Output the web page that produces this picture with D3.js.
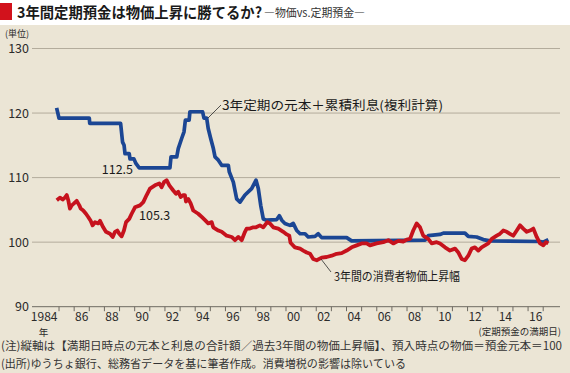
<!DOCTYPE html>
<html>
<head>
<meta charset="utf-8">
<script src="https://cdn.jsdelivr.net/npm/d3@7"></script>
<style>
body{margin:0;background:#fff;}
svg{display:block;font-family:"Noto Sans CJK JP","Noto Sans",sans-serif;}
</style>
</head>
<body>
<div id="chart"></div>
<script>
// 3年定期（元本＋累積利息）: 満期日（年） / 値
var depositDates = [1984.84,1985.0,1987.0,1987.03,1989.07,1989.2,1989.3,1989.36,1989.64,1989.69,1989.95,1990.08,1990.3,1992.33,1992.4,1992.78,1992.88,1993.11,1993.26,1993.35,1993.6,1993.65,1994.49,1994.58,1994.76,1994.86,1995.02,1995.2,1995.31,1995.53,1995.75,1996.19,1996.25,1996.52,1996.74,1996.96,1997.29,1997.73,1998.02,1998.17,1998.33,1998.5,1998.72,1999.39,1999.56,1999.72,1999.93,2000.26,2000.48,2000.71,2000.93,2001.26,2001.47,2001.92,2002.13,2002.36,2004.01,2004.34,2009.19,2009.41,2010.18,2010.4,2011.83,2012.05,2012.6,2013.04,2013.48,2016.79,2017.0,2017.34];
var depositValues = [120.8,119.2,119.2,118.4,118.4,115.5,115.0,113.7,113.7,112.9,112.9,112.2,111.5,111.5,113.2,113.2,114.5,116.1,117.1,118.9,118.9,120.2,120.2,119.2,119.2,117.6,116.1,114.5,113.2,112.7,111.9,111.9,110.9,109.3,106.7,106.2,107.3,108.3,109.6,108.3,105.7,103.6,103.4,103.5,104.1,103.4,102.9,102.6,102.9,101.8,101.3,101.3,100.8,100.9,101.3,100.7,100.7,100.2,100.3,101.0,101.2,101.4,101.4,100.9,100.8,100.4,100.2,100.1,100.0,100.4];

// 過去3年間の消費者物価上昇幅
var cpiDates = [1984.85,1985.06,1985.24,1985.39,1985.51,1985.61,1985.72,1985.84,1985.99,1986.17,1986.34,1986.43,1986.6,1986.78,1986.93,1987.09,1987.22,1987.38,1987.59,1987.71,1987.92,1988.1,1988.37,1988.55,1988.7,1988.85,1988.98,1989.14,1989.29,1989.43,1989.64,1989.8,1990.02,1990.35,1990.57,1990.79,1991.01,1991.34,1991.63,1991.78,1991.94,1992.11,1992.29,1992.55,1992.73,1992.88,1993.04,1993.21,1993.32,1993.39,1993.54,1993.7,1993.87,1994.2,1994.43,1994.65,1994.86,1995.09,1995.19,1995.53,1995.75,1996.08,1996.41,1996.63,1996.85,1997.07,1997.29,1997.4,1997.62,1997.84,1998.02,1998.28,1998.5,1998.76,1998.94,1999.16,1999.49,1999.82,2000.05,2000.22,2000.3,2000.59,2000.93,2001.14,2001.37,2001.59,2001.8,2002.03,2002.36,2002.69,2003.02,2003.35,2003.68,2004.01,2004.34,2004.67,2005.0,2005.33,2005.55,2005.99,2006.43,2006.76,2007.09,2007.42,2007.75,2007.98,2008.2,2008.41,2008.64,2008.86,2009.07,2009.4,2009.63,2009.96,2010.18,2010.51,2010.84,2011.17,2011.39,2011.61,2011.83,2012.05,2012.27,2012.49,2012.71,2012.93,2013.15,2013.37,2013.6,2013.93,2014.14,2014.36,2014.59,2014.8,2015.02,2015.25,2015.47,2015.68,2015.91,2016.13,2016.35,2016.57,2016.79,2017.01,2017.18,2017.34];
var cpiValues = [106.5,106.9,106.6,106.9,107.3,106.5,105.2,105.7,106.0,106.4,105.7,105.2,104.9,104.4,103.9,103.3,102.6,103.1,102.9,103.3,102.3,101.6,101.3,100.8,101.6,101.8,101.3,100.9,101.8,103.1,103.6,104.4,105.4,105.7,106.2,107.3,108.3,108.8,109.1,108.5,109.3,109.6,108.8,108.0,107.5,107.8,107.0,107.3,107.3,106.3,106.7,106.0,104.9,104.4,103.9,103.4,102.9,103.1,102.3,101.8,101.6,101.0,100.8,100.3,100.8,100.3,101.6,102.1,102.1,102.3,102.3,102.6,102.3,103.1,102.9,102.3,102.1,101.6,101.2,101.0,99.9,99.2,99.0,98.7,98.4,98.2,97.4,97.2,97.6,97.7,97.9,98.2,98.3,98.7,99.2,99.5,99.8,99.8,99.5,99.8,100.0,100.3,99.8,100.2,100.1,100.4,100.5,101.8,102.9,102.3,101.0,100.5,99.8,100.0,99.8,99.2,98.7,99.0,98.4,97.4,97.2,97.9,99.0,99.2,98.7,99.2,99.5,99.8,100.5,101.0,101.3,101.8,101.6,101.3,101.0,101.8,102.6,102.1,101.6,101.8,102.1,100.8,99.8,99.5,100.0,99.8];

var yTicks = [90,100,110,120,130];
var xTickYears = [1984,1986,1988,1990,1992,1994,1996,1998,2000,2002,2004,2006,2008,2010,2012,2014,2016];
var xTickLabels = ["1984","86","88","90","92","94","96","98","00","02","04","06","08","10","12","14","16"];
var minorTickYears = d3.range(1985,2018);

var W = 570, H = 373;
var gridLeft = 32, gridRight = 560;
var blue = "#1b4694", red = "#c6121d", ink = "#2b2b2b";

var x = d3.scaleLinear().domain([1984,2017]).range([43.9,543.2]);
var y = d3.scaleLinear().domain([90,130]).range([306.7,48.5]);

var svg = d3.select("#chart").
  append("svg").
  attr("width", W).
  attr("height", H);

// panel
svg.append("rect").attr("x",0).attr("y",25).attr("width",W).attr("height",H-25).attr("fill","#ebe5d5");

// title
svg.append("rect").attr("x",0).attr("y",3).attr("width",12).attr("height",17).attr("fill","#d2121c");
svg.append("text").attr("x",17).attr("y",18).
  attr("font-size","15px").attr("font-weight","bold").attr("fill","#1a1a1a").
  attr("textLength",245).attr("lengthAdjust","spacingAndGlyphs").
  text("3年間定期預金は物価上昇に勝てるか?");
svg.append("text").attr("x",264).attr("y",17).
  attr("font-size","11.5px").attr("fill","#333").
  attr("textLength",101).attr("lengthAdjust","spacingAndGlyphs").
  text("―物価vs.定期預金―");

// grid lines + y labels
svg.append("g").selectAll("line").data(yTicks).enter().append("line").
  attr("x1", gridLeft).attr("x2", gridRight).
  attr("y1", function(d){ return y(d); }).attr("y2", function(d){ return y(d); }).
  attr("stroke", function(d){ return d == 90 ? "#6e6a62" : "#b3ac9c"; }).
  attr("stroke-width", 1);

svg.append("g").selectAll("text").data(yTicks).enter().append("text").
  attr("x", 29).attr("y", function(d){ return y(d) + 4.5; }).
  attr("text-anchor","end").attr("font-size","12.5px").attr("fill",ink).
  text(function(d){ return d; });

svg.append("text").attr("x",5).attr("y",36.5).attr("font-size","9px").attr("fill",ink).text("(単位)");

// x ticks
svg.append("g").selectAll("line").data(minorTickYears).enter().append("line").
  attr("x1", function(d){ return x(d); }).attr("x2", function(d){ return x(d); }).
  attr("y1", y(90)).attr("y2", y(90) + 4.5).
  attr("stroke","#6e6a62").attr("stroke-width",1);

svg.append("g").selectAll("text").data(xTickYears).enter().append("text").
  attr("x", function(d, i){ return i == 0 ? x(d + 0.5) + 6 : x(d + 0.5); }).
  attr("y", 321).
  attr("text-anchor", function(d, i){ return i == 0 ? "end" : "middle"; }).
  attr("font-size","12px").attr("fill",ink).
  text(function(d, i){ return xTickLabels[i]; });

svg.append("text").attr("x",43.5).attr("y",335.5).attr("text-anchor","middle").
  attr("font-size","9.5px").attr("fill",ink).text("年");
svg.append("text").attr("x",561).attr("y",335).attr("text-anchor","end").
  attr("font-size","9.5px").attr("fill",ink).text("(定期預金の満期日)");

// lines
var line = d3.line().
  x(function(d){ return x(d[0]); }).
  y(function(d){ return y(d[1]); });

svg.append("path").
  datum(d3.zip(depositDates, depositValues)).
  attr("d", line).
  attr("fill","none").
  attr("stroke", blue).
  attr("stroke-width", 3.7).
  attr("stroke-linejoin","round");

svg.append("path").
  datum(d3.zip(cpiDates, cpiValues)).
  attr("d", line).
  attr("fill","none").
  attr("stroke", red).
  attr("stroke-width", 3.8).
  attr("stroke-linejoin","round");

// annotations
svg.append("line").attr("x1",208).attr("y1",118).attr("x2",221).attr("y2",105).
  attr("stroke",ink).attr("stroke-width",0.8);
svg.append("text").attr("x",222).attr("y",110).attr("font-size","12.5px").attr("fill","#1a1a1a").
  attr("textLength",221).attr("lengthAdjust","spacingAndGlyphs").
  text("3年定期の元本＋累積利息(複利計算)");

svg.append("text").attr("x",133).attr("y",173.5).attr("text-anchor","end").
  attr("font-size","12.5px").attr("fill","#1a1a1a").text("112.5");
svg.append("text").attr("x",139).attr("y",219.5).
  attr("font-size","12.5px").attr("fill","#1a1a1a").text("105.3");

svg.append("line").attr("x1",321).attr("y1",259).attr("x2",331).attr("y2",272).
  attr("stroke",ink).attr("stroke-width",0.8);
svg.append("text").attr("x",334).attr("y",281).attr("font-size","12px").attr("fill","#1a1a1a").
  attr("textLength",126).attr("lengthAdjust","spacingAndGlyphs").
  text("3年間の消費者物価上昇幅");

// notes
svg.append("text").attr("x",1).attr("y",350).attr("font-size","11.3px").attr("fill","#333").
  attr("textLength",561).attr("lengthAdjust","spacingAndGlyphs").
  text("(注)縦軸は【満期日時点の元本と利息の合計額／過去3年間の物価上昇幅】、預入時点の物価＝預金元本＝100");
svg.append("text").attr("x",1).attr("y",368).attr("font-size","11.3px").attr("fill","#333").
  attr("textLength",405).attr("lengthAdjust","spacingAndGlyphs").
  text("(出所)ゆうちょ銀行、総務省データを基に筆者作成。消費増税の影響は除いている");
</script>
</body>
</html>
